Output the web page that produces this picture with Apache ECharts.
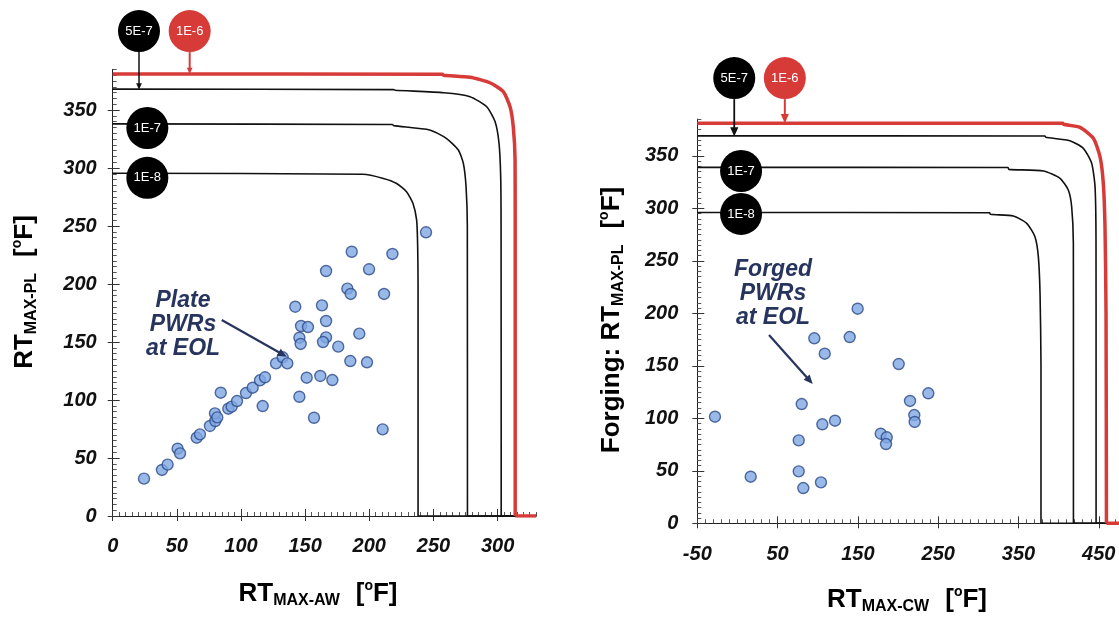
<!DOCTYPE html>
<html><head><meta charset="utf-8">
<script src="https://cdn.jsdelivr.net/npm/echarts@6/dist/echarts.min.js"></script>
<style>html,body{margin:0;padding:0;background:#fff}#c{width:1119px;height:618px}</style>
</head><body><div id="c"></div>
<script>
// ---------------- data ----------------
const leftXTicks = [0, 50, 100, 150, 200, 250, 300];
const leftYTicks = [0, 50, 100, 150, 200, 250, 300, 350];
const rightXTicks = [-50, 50, 150, 250, 350, 450];
const rightYTicks = [0, 50, 100, 150, 200, 250, 300, 350];

const plateX = [24.4, 38.4, 42.8, 50.6, 52.5, 65.5, 68, 75.8, 80, 79.7, 81.5, 84.2, 90.1, 92.7, 96.9, 103.9, 109.1, 114.8, 118.7, 116.9, 127.3, 132.5, 136.1, 142.3, 146.8, 152.2, 145.5, 146.5, 145.5, 151.2, 156.9, 166.3, 163.1, 166.3, 166.3, 163.9, 161.8, 171.2, 175.8, 182.9, 185.5, 186.3, 185.2, 192.2, 199.8, 198.2, 211.5, 210.4, 218, 244.2];
const plateY = [32.2, 39.7, 44.3, 58, 54, 67.5, 70.4, 77.6, 81.9, 88.5, 85, 106.3, 92.5, 94.2, 99.1, 106, 110.6, 117, 119.6, 94.8, 131.6, 136.8, 131.6, 180.4, 163.8, 162.9, 153.7, 148.3, 102.8, 119.2, 84.7, 211.2, 181.6, 168.1, 154, 150, 120.7, 117.2, 146, 196, 191.4, 227.8, 133.6, 157.2, 212.7, 132.5, 191.4, 74.7, 225.9, 244.6];

const forgedX = [-28, 16.5, 80, 76.3, 76.3, 82, 104, 105.7, 121.5, 95.7, 108.7, 139.8, 149.7, 200.8, 178.4, 185.9, 185, 214.9, 220.2, 220.7, 237.7];
const forgedY = [101.5, 44.4, 113.6, 79, 49.5, 33.6, 39, 94.3, 97.7, 176.2, 161.5, 177.4, 204.4, 151.7, 85.3, 81.9, 75.5, 116.5, 103.1, 96.5, 123.8];

// screening curves
const left1E8 = [[0,295.5],[195,294.6],[211,291],[221,286.8],[229,279.6],[234,269.6],[236.9,255],[237.7,232],[238,200],[238,0]];
const left1E7 = [[0,338],[218,337.5],[219,336.5],[247,332.8],[260,325.6],[269.4,315.5],[273.3,304],[275.4,284],[276.4,250],[276.5,0]];
const left5E7 = [[0,368],[219,367.6],[220,367],[258,364.9],[278.5,361.5],[291.5,352.8],[298,340],[301.1,321.3],[302.4,292.5],[302.7,250],[302.8,0]];
const left1E6 = [[0,381],[257,380.8],[258,380],[278.5,378.2],[294,373.5],[304.4,365.8],[309.7,352.8],[312.2,335.6],[313.6,307],[313.7,250],[313.7,0]];

const right1E8 = [[-50,296],[314,295.8],[315,294.3],[343.5,292.7],[360.2,285.7],[370.5,273],[374.7,254],[376.8,219],[378,150],[378,0]];
const right1E7 = [[-50,339],[337,338.8],[338,337.1],[381,335.5],[401.7,328.6],[412,317.4],[416.2,301.5],[418.3,266.7],[418.4,150],[418.4,0]];
const right5E7 = [[-50,369],[383,368.8],[384,367.6],[414,364.4],[430.7,357.1],[441.1,342.9],[445.3,320.6],[446.5,270],[446.6,150],[446.6,0]];
const right1E6 = [[-50,381],[405,381],[406,380],[426.6,377.1],[443.2,366.7],[451.5,349.1],[455.6,323.8],[457.7,282.5],[459,200],[459.5,0]];

// ---------------- layout / style ----------------
const FONT = '"Liberation Sans", Arial, sans-serif';
const L = {xmin:0, xmax:330, ymin:0, ymax:385, left:112.7, top:69.4, width:423.4, height:446.6};
const R = {xmin:-50, xmax:480, ymin:0, ymax:385, left:697.3, top:119.05, width:425.6, height:404.25};
const BLACK = '#111', RED = '#d63b38', NAVY = '#27345e';

const chart = echarts.init(document.getElementById('c'));

function gridOf(g){ return {left:g.left, top:g.top, width:g.width, height:g.height, show:false, containLabel:false, outerBoundsMode:'none'}; }
const labelStyle = {fontFamily:FONT, fontSize:20, fontWeight:'bold', fontStyle:'italic', color:'#111'};

function mainAxis(gi, min, max, ticks, margin){
  return {type:'value', gridIndex:gi, min, max,
    axisLine:{show:true, onZero:false, lineStyle:{color:'#222', width:1}},
    axisTick:{show:true, inside:false, length:5, customValues:ticks, lineStyle:{color:'#333'}},
    axisLabel:Object.assign({show:true, customValues:ticks, margin}, labelStyle),
    splitLine:{show:false}};
}
function smallTickAxis(gi, min, max, interval){
  return {type:'value', gridIndex:gi, min, max, interval,
    axisLine:{show:false, onZero:false}, axisLabel:{show:false}, splitLine:{show:false},
    axisTick:{show:true, inside:true, length:4, lineStyle:{color:'#555', width:1}}};
}
function majorInAxis(gi, min, max, ticks){
  return {type:'value', gridIndex:gi, min, max,
    axisLine:{show:false, onZero:false}, axisLabel:{show:false}, splitLine:{show:false},
    axisTick:{show:true, inside:true, length:7, customValues:ticks, lineStyle:{color:'#333', width:1}}};
}

function curve(data, color, width, ax, z, smooth){
  return {type:'line', xAxisIndex:ax, yAxisIndex:ax, data, showSymbol:false, symbol:'none', smooth:smooth,
    lineStyle:{color, width}, z, silent:true, animation:false};
}
function base(data, xmax, color, width, ax, z){
  const last = data[data.length-1];
  return curve([last, [xmax, 0]], color, width, ax, z, false);
}
function scatter(xs, ys, ax){
  return {type:'scatter', xAxisIndex:ax, yAxisIndex:ax, data: xs.map((x,i)=>[x, ys[i]]),
    symbolSize:11, itemStyle:{color:'#80a8e4', borderColor:'#2c4a87', borderWidth:1.4}, z:5, animation:false};
}

const option = {
  animation:false,
  backgroundColor:'#fff',
  grid:[gridOf(L), gridOf(R), gridOf(L), gridOf(R), gridOf(L), gridOf(R)],
  xAxis:[
    mainAxis(0, L.xmin, L.xmax, leftXTicks, 20),
    mainAxis(1, R.xmin, R.xmax, rightXTicks, 21),
    smallTickAxis(2, L.xmin, L.xmax, 5),
    smallTickAxis(3, R.xmin, R.xmax, 10),
    majorInAxis(4, L.xmin, L.xmax, leftXTicks),
    majorInAxis(5, R.xmin, R.xmax, rightXTicks)
  ],
  yAxis:[
    mainAxis(0, L.ymin, L.ymax, leftYTicks, 16),
    mainAxis(1, R.ymin, R.ymax, rightYTicks, 19),
    smallTickAxis(2, L.ymin, L.ymax, 5),
    smallTickAxis(3, R.ymin, R.ymax, 5),
    majorInAxis(4, L.ymin, L.ymax, leftYTicks),
    majorInAxis(5, R.ymin, R.ymax, rightYTicks)
  ],
  series:[
    curve(left1E8, BLACK, 1.6, 0, 3, 0.2), base(left1E8, L.xmax, BLACK, 1.6, 0, 3),
    curve(left1E7, BLACK, 1.6, 0, 3, 0.2), base(left1E7, L.xmax, BLACK, 1.6, 0, 3),
    curve(left5E7, BLACK, 1.6, 0, 3, 0.2), base(left5E7, L.xmax, BLACK, 1.6, 0, 3),
    curve(left1E6, RED, 3.5, 0, 4, 0.2), base(left1E6, L.xmax, RED, 3.5, 0, 4),
    scatter(plateX, plateY, 0),
    curve(right1E8, BLACK, 1.6, 1, 3, 0.2), base(right1E8, R.xmax, BLACK, 1.6, 1, 3),
    curve(right1E7, BLACK, 1.6, 1, 3, 0.2), base(right1E7, R.xmax, BLACK, 1.6, 1, 3),
    curve(right5E7, BLACK, 1.6, 1, 3, 0.2), base(right5E7, R.xmax, BLACK, 1.6, 1, 3),
    curve(right1E6, RED, 3.5, 1, 4, 0.2), base(right1E6, R.xmax, RED, 3.5, 1, 4),
    scatter(forgedX, forgedY, 1)
  ]
};
chart.setOption(option);

// ---------------- annotations ----------------
function P(ax, x, y){ return chart.convertToPixel({xAxisIndex:ax, yAxisIndex:ax}, [x, y]); }

const graphics = [];
function badge(p, label, color){
  graphics.push({type:'circle', shape:{cx:p[0], cy:p[1], r:21}, style:{fill:color}, z:20});
  graphics.push({type:'text', x:p[0], y:p[1], z:21,
    style:{text:label, fill:'#fff', font:'13px ' + FONT, align:'center', verticalAlign:'middle'}});
}
function arrow(p1, p2, color, w, head){
  const a = Math.atan2(p2[1]-p1[1], p2[0]-p1[0]);
  const e = [p2[0]-Math.cos(a)*head*0.8, p2[1]-Math.sin(a)*head*0.8];
  graphics.push({type:'line', shape:{x1:p1[0], y1:p1[1], x2:e[0], y2:e[1]}, style:{stroke:color, lineWidth:w}, z:19});
  const s = 0.42;
  graphics.push({type:'polygon', z:19, shape:{points:[
    [p2[0], p2[1]],
    [p2[0]-Math.cos(a-s)*head, p2[1]-Math.sin(a-s)*head],
    [p2[0]-Math.cos(a+s)*head, p2[1]-Math.sin(a+s)*head]]}, style:{fill:color}});
}
function block(p, lines){
  lines.forEach((t, i) => graphics.push({type:'text', x:p[0], y:p[1] + (i - (lines.length-1)/2)*24, z:15,
    style:{text:t, fill:NAVY, font:'italic bold 23px ' + FONT, align:'center', verticalAlign:'middle'}}));
}

// left chart badges & stems
{
  const c57 = P(0, 20.5, 418), c16 = P(0, 60, 418);
  arrow([c57[0], c57[1]+21], P(0, 20.5, 367.5), BLACK, 1.5, 7);
  arrow([c16[0], c16[1]+21], P(0, 60, 381), RED, 2, 7);
  badge(c57, '5E-7', '#000');
  badge(c16, '1E-6', RED);
  badge(P(0, 27, 334.5), '1E-7', '#000');
  badge(P(0, 27, 291.5), '1E-8', '#000');
  block(P(0, 54.8, 164.7), ['Plate', 'PWRs', 'at EOL']);
  arrow(P(0, 85, 169), P(0, 135.6, 137.3), NAVY, 2.2, 10);
}
// right chart badges & stems
{
  const c57 = P(1, -4, 424), c16 = P(1, 59, 424);
  arrow([c57[0], c57[1]+21], P(1, -4, 368.5), BLACK, 1.8, 10);
  arrow([c16[0], c16[1]+21], P(1, 59, 381), RED, 2, 10);
  badge(c57, '5E-7', '#000');
  badge(c16, '1E-6', RED);
  badge(P(1, 4.5, 335.5), '1E-7', '#000');
  badge(P(1, 4.5, 294.6), '1E-8', '#000');
  block(P(1, 44.3, 218.4), ['Forged', 'PWRs', 'at EOL']);
  arrow(P(1, 39.3, 179.3), P(1, 93.7, 132.7), NAVY, 2.2, 10);
}

// axis titles
const rich = {
  rt:{fontFamily:FONT, fontSize:26, fontWeight:'bold', color:'#111', lineHeight:32, verticalAlign:'middle'},
  sub:{fontFamily:FONT, fontSize:16, fontWeight:'bold', color:'#111', lineHeight:32, verticalAlign:'middle', padding:[14,0,0,0]},
  sup:{fontFamily:FONT, fontSize:14, fontWeight:'bold', color:'#111', lineHeight:32, verticalAlign:'middle', padding:[0,0,16,0]},
  gap:{width:16}
};
function title(x, y, rot, prefix, sub){
  graphics.push({type:'text', x, y, rotation:rot, z:10,
    style:{text:prefix + '{rt|RT}{sub|' + sub + '}{gap| }{rt|[}{sup|o}{rt|F]}', rich, align:'center', verticalAlign:'middle'}});
}
title(318, 594, 0, '', 'MAX-AW');
title(907, 600, 0, '', 'MAX-CW');
title(25, 292, Math.PI/2, '', 'MAX-PL');
title(612, 320, Math.PI/2, '{rt|Forging: }', 'MAX-PL');

chart.setOption({graphic:{elements:graphics}});
</script>
</body></html>
